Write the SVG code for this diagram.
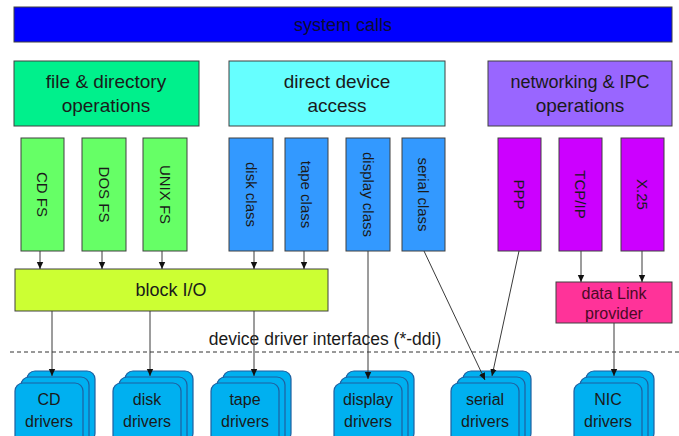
<svg xmlns="http://www.w3.org/2000/svg" width="679" height="436" viewBox="0 0 679 436">
<style>
text{font-family:"Liberation Sans",Arial,sans-serif;fill:#1a1a1a}
.box{stroke:#404040;stroke-width:1}
.t18{font-size:18px;text-anchor:middle}
.t19{font-size:19px;text-anchor:middle}
.t16{font-size:16px;text-anchor:middle}
.v{font-size:15px;text-anchor:middle;dominant-baseline:central}
.fs{fill:#66FF66}
.cls{fill:#3399FF}
.net{fill:#CC00FF}
.drv{fill:#00B0F0;stroke:#1F5F9F;stroke-width:1.2}
.con{stroke:#3a3a3a;stroke-width:1;fill:none}
</style>
<defs>
<marker id="ah" markerWidth="8" markerHeight="8" refX="7" refY="4" orient="auto" markerUnits="userSpaceOnUse">
<path d="M0,0.8 L7,4 L0,7.2 Z" fill="#111"/>
</marker>
</defs>
<rect width="679" height="436" fill="#fff"/>

<g id="system-calls">
<rect class="box" x="14" y="7" width="658" height="35" fill="#0000FF"/>
<text class="t18" x="343" y="31" style="fill:#0d0d33">system calls</text>
</g>

<g id="file-dir-ops">
<rect class="box" x="14" y="61" width="185" height="65" fill="#00F08C"/>
<text class="t19" x="106" y="88">file &amp; directory</text>
<text class="t19" x="106" y="112">operations</text>
</g>
<g id="direct-device">
<rect class="box" x="229" y="61" width="216" height="65" fill="#66FFFF"/>
<text class="t19" x="337" y="88">direct device</text>
<text class="t19" x="337" y="112">access</text>
</g>
<g id="net-ipc">
<rect class="box" x="488" y="61" width="184" height="65" fill="#9966FF"/>
<text class="t18" x="580" y="88">networking &amp; IPC</text>
<text class="t19" x="580" y="112">operations</text>
</g>

<g id="cdfs"><rect class="box fs" x="21" y="138" width="43" height="113"/><text class="v" transform="translate(42.5,194.5) rotate(90)">CD FS</text></g>
<g id="dosfs"><rect class="box fs" x="82" y="138" width="44" height="113"/><text class="v" transform="translate(104,194.5) rotate(90)">DOS FS</text></g>
<g id="unixfs"><rect class="box fs" x="143" y="138" width="44" height="113"/><text class="v" transform="translate(165,194.5) rotate(90)">UNIX FS</text></g>
<g id="disk-class"><rect class="box cls" x="229" y="138" width="44" height="113"/><text class="v" transform="translate(251,194.5) rotate(90)">disk class</text></g>
<g id="tape-class"><rect class="box cls" x="285" y="138" width="43" height="113"/><text class="v" transform="translate(306.5,194.5) rotate(90)">tape class</text></g>
<g id="display-class"><rect class="box cls" x="346" y="138" width="44" height="113"/><text class="v" transform="translate(368,194.5) rotate(90)">display class</text></g>
<g id="serial-class"><rect class="box cls" x="402" y="138" width="43" height="113"/><text class="v" transform="translate(423.5,194.5) rotate(90)">serial class</text></g>
<g id="ppp"><rect class="box net" x="498" y="138" width="43" height="113"/><text class="v" transform="translate(519.5,194.5) rotate(90)">PPP</text></g>
<g id="tcpip"><rect class="box net" x="559" y="138" width="43" height="113"/><text class="v" transform="translate(580.5,194.5) rotate(90)">TCP/IP</text></g>
<g id="x25"><rect class="box net" x="621" y="138" width="43" height="113"/><text class="v" transform="translate(642.5,194.5) rotate(90)">X.25</text></g>

<g id="block-io">
<rect class="box" x="15" y="269" width="313" height="42" fill="#CCFF33"/>
<text class="t18" x="171" y="296">block I/O</text>
</g>

<g id="data-link">
<rect class="box" x="556" y="282" width="116" height="41" fill="#FF3399"/>
<text class="t16" x="614" y="299" style="fill:#4a0a26">data Link</text>
<text class="t16" x="614" y="319" style="fill:#4a0a26">provider</text>
</g>

<g id="ddi">
<line x1="10" y1="352" x2="679" y2="352" stroke="#333" stroke-width="1" stroke-dasharray="4,3"/>
<text x="325" y="345" style="font-size:17.5px;text-anchor:middle">device driver interfaces (*-ddi)</text>
</g>

<g id="cd-drivers">
<rect class="drv" x="27" y="371" width="68" height="70" rx="8"/>
<rect class="drv" x="21" y="377" width="68" height="70" rx="8"/>
<rect class="drv" x="15" y="383" width="68" height="70" rx="8"/>
<text class="t16" x="49" y="405">CD</text><text class="t16" x="49" y="427">drivers</text>
</g>
<g id="disk-drivers">
<rect class="drv" x="125" y="371" width="68" height="70" rx="8"/>
<rect class="drv" x="119" y="377" width="68" height="70" rx="8"/>
<rect class="drv" x="113" y="383" width="68" height="70" rx="8"/>
<text class="t16" x="147" y="405">disk</text><text class="t16" x="147" y="427">drivers</text>
</g>
<g id="tape-drivers">
<rect class="drv" x="223" y="371" width="68" height="70" rx="8"/>
<rect class="drv" x="217" y="377" width="68" height="70" rx="8"/>
<rect class="drv" x="211" y="383" width="68" height="70" rx="8"/>
<text class="t16" x="245" y="405">tape</text><text class="t16" x="245" y="427">drivers</text>
</g>
<g id="display-drivers">
<rect class="drv" x="346" y="371" width="68" height="70" rx="8"/>
<rect class="drv" x="340" y="377" width="68" height="70" rx="8"/>
<rect class="drv" x="334" y="383" width="68" height="70" rx="8"/>
<text class="t16" x="368" y="405">display</text><text class="t16" x="368" y="427">drivers</text>
</g>
<g id="serial-drivers">
<rect class="drv" x="463" y="371" width="68" height="70" rx="8"/>
<rect class="drv" x="457" y="377" width="68" height="70" rx="8"/>
<rect class="drv" x="451" y="383" width="68" height="70" rx="8"/>
<text class="t16" x="485" y="405">serial</text><text class="t16" x="485" y="427">drivers</text>
</g>
<g id="nic-drivers">
<rect class="drv" x="586" y="371" width="68" height="70" rx="8"/>
<rect class="drv" x="580" y="377" width="68" height="70" rx="8"/>
<rect class="drv" x="574" y="383" width="68" height="70" rx="8"/>
<text class="t16" x="608" y="405">NIC</text><text class="t16" x="608" y="427">drivers</text>
</g>

<g id="connectors">
<line class="con" x1="40" y1="251" x2="40" y2="269" marker-end="url(#ah)"/>
<line class="con" x1="102" y1="251" x2="102" y2="269" marker-end="url(#ah)"/>
<line class="con" x1="162" y1="251" x2="162" y2="269" marker-end="url(#ah)"/>
<line class="con" x1="254" y1="251" x2="254" y2="269" marker-end="url(#ah)"/>
<line class="con" x1="304" y1="251" x2="304" y2="269" marker-end="url(#ah)"/>
<line class="con" x1="52" y1="311" x2="52" y2="376" marker-end="url(#ah)"/>
<line class="con" x1="150" y1="311" x2="150" y2="376" marker-end="url(#ah)"/>
<line class="con" x1="254" y1="311" x2="254" y2="376" marker-end="url(#ah)"/>
<line class="con" x1="368" y1="251" x2="368" y2="379" marker-end="url(#ah)"/>
<line class="con" x1="424" y1="251" x2="485" y2="380" marker-end="url(#ah)"/>
<line class="con" x1="519" y1="251" x2="492" y2="376" marker-end="url(#ah)"/>
<line class="con" x1="581" y1="251" x2="581" y2="282" marker-end="url(#ah)"/>
<line class="con" x1="642" y1="251" x2="642" y2="282" marker-end="url(#ah)"/>
<line class="con" x1="614" y1="323" x2="614" y2="376" marker-end="url(#ah)"/>
</g>
</svg>
